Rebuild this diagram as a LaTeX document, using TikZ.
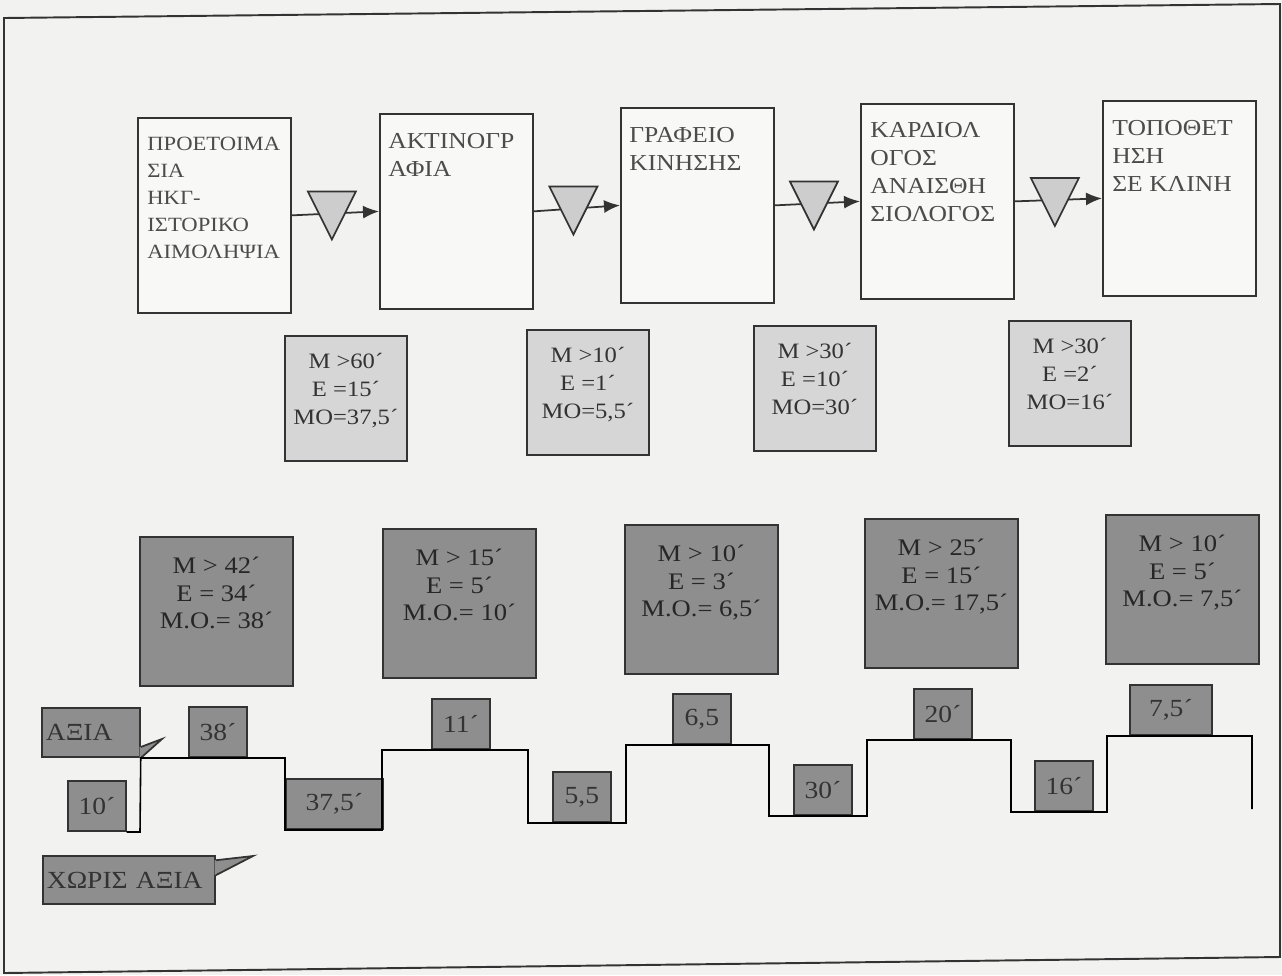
\documentclass[tikz,border=0pt]{standalone}
\usepackage{fontspec}
\setmainfont{Liberation Serif}[FakeStretch=1.12]
\usetikzlibrary{arrows.meta, calc, positioning}

\definecolor{paper}{HTML}{F2F2F0}
\definecolor{ink}{HTML}{333333}
\definecolor{procfill}{HTML}{F8F8F7}
\definecolor{softgray}{HTML}{D6D6D6}
\definecolor{darkgray}{HTML}{8E8E8E}
\definecolor{trigray}{HTML}{CDCDCD}

\tikzset{
  procbox/.style={draw=ink, line width=1pt, fill=procfill, anchor=north west, inner sep=0pt,
    minimum width=3.06cm, minimum height=3.9cm},
  proctext/.style={inner sep=0pt, align=left, text=black!70, font=\fontsize{13}{16}\selectfont},
  flow/.style={draw=ink, line width=1pt, -{Latex[length=3.2mm,width=2.6mm]}},
  inv/.style={draw=ink, line width=1pt, fill=trigray, line join=miter},
  waitbox/.style={draw=ink, line width=1pt, fill=softgray, anchor=north west, inner sep=0pt,
    minimum width=2.44cm, minimum height=2.5cm},
  waittext/.style={inner sep=0pt, align=center, text=black!80, font=\fontsize{12.5}{16}\selectfont},
  statbox/.style={draw=ink, line width=1pt, fill=darkgray, anchor=north west, inner sep=0pt,
    minimum width=3.06cm, minimum height=2.98cm},
  stattext/.style={inner sep=0pt, align=center, text=black!85, font=\fontsize{13.5}{15.6}\selectfont},
  valbox/.style={draw=ink, line width=1pt, fill=darkgray, anchor=south west, inner sep=0pt,
    minimum width=1.16cm, minimum height=1cm, text=black!80, font=\fontsize{14}{16}\selectfont},
  tagbox/.style={valbox, align=left, inner xsep=0.08cm},
  stair/.style={draw=black, line width=0.9pt},
}

\begin{document}
\begin{tikzpicture}[x={(0.02cm,0)}, y={(0,-0.02cm)}]
    % Page and outer frame
    \useasboundingbox (0,0) rectangle (1282,975);
    \fill[paper] (0,0) rectangle (1282,975);
    \draw[ink, line width=1.1pt] (4,18) -- (1280,4) -- (1280,957) -- (4,973) -- cycle;

    % Process steps
    \node[procbox] (prep) at (137,117) {};
    \node[proctext, font=\fontsize{11.5}{15.3}\selectfont, below right=0.4cm and 0.2cm of prep.north west] (preptext)
        {ΠΡΟΕΤΟΙΜΑ\\ΣΙΑ\\ΗΚΓ-\\ΙΣΤΟΡΙΚΟ\\ΑΙΜΟΛΗΨΙΑ};
    \node[procbox] (xray) at (379,113) {};
    \node[proctext, below right=0.4cm and 0.18cm of xray.north west] (xraytext) {ΑΚΤΙΝΟΓΡ\\ΑΦΙΑ};
    \node[procbox] (office) at (620,107) {};
    \node[proctext, below right=0.4cm and 0.18cm of office.north west] (officetext) {ΓΡΑΦΕΙΟ\\ΚΙΝΗΣΗΣ};
    \node[procbox] (anesth) at (860,103) {};
    \node[proctext, below right=0.38cm and 0.2cm of anesth.north west] (anesthtext)
        {ΚΑΡΔΙΟΛ\\ΟΓΟΣ\\ΑΝΑΙΣΘΗ\\ΣΙΟΛΟΓΟΣ};
    \node[procbox] (bed) at (1102,100) {};
    \node[proctext, below right=0.4cm and 0.2cm of bed.north west] (bedtext) {ΤΟΠΟΘΕΤ\\ΗΣΗ\\ΣΕ ΚΛΙΝΗ};

    % Flow arrows with the waiting triangles on them
    \draw[flow] (prep.east) -- coordinate[pos=0.46] (w1) (xray.west);
    \draw[flow] (xray.east) -- coordinate[pos=0.46] (w2) (office.west);
    \draw[flow] (office.east) -- coordinate[pos=0.46] (w3) (anesth.west);
    \draw[flow] (anesth.east) -- coordinate[pos=0.46] (w4) (bed.west);
    \draw[inv] (w1) ++(-24,-22) -- ++(48,0) -- ++(-24,48) -- cycle;
    \draw[inv] (w2) ++(-24,-22) -- ++(48,0) -- ++(-24,48) -- cycle;
    \draw[inv] (w3) ++(-24,-22) -- ++(48,0) -- ++(-24,48) -- cycle;
    \draw[inv] (w4) ++(-24,-22) -- ++(48,0) -- ++(-24,48) -- cycle;

    % Waiting times
    \node[waitbox] (wait1) at (284,335) {};
    \node[waittext, below=0.36cm of wait1.north] (wait1text) {Μ >60´\\Ε =15´\\ΜΟ=37,5´};
    \node[waitbox] (wait2) at (526,329) {};
    \node[waittext, below=0.36cm of wait2.north] (wait2text) {Μ >10´\\Ε =1´\\ΜΟ=5,5´};
    \node[waitbox] (wait3) at (753,325) {};
    \node[waittext, below=0.36cm of wait3.north] (wait3text) {Μ >30´\\Ε =10´\\ΜΟ=30´};
    \node[waitbox] (wait4) at (1008,320) {};
    \node[waittext, below=0.36cm of wait4.north] (wait4text) {Μ >30´\\Ε =2´\\ΜΟ=16´};

    % Process times
    \node[statbox] (stat1) at (139,536) {};
    \node[stattext, below=0.42cm of stat1.north] (stat1text) {Μ > 42´\\Ε = 34´\\Μ.Ο.= 38´};
    \node[statbox] (stat2) at (382,528) {};
    \node[stattext, below=0.42cm of stat2.north] (stat2text) {Μ > 15´\\Ε = 5´\\Μ.Ο.= 10´};
    \node[statbox] (stat3) at (624,524) {};
    \node[stattext, below=0.42cm of stat3.north] (stat3text) {Μ > 10´\\Ε = 3´\\Μ.Ο.= 6,5´};
    \node[statbox] (stat4) at (864,518) {};
    \node[stattext, below=0.42cm of stat4.north] (stat4text) {Μ > 25´\\Ε = 15´\\Μ.Ο.= 17,5´};
    \node[statbox] (stat5) at (1105,514) {};
    \node[stattext, below=0.42cm of stat5.north] (stat5text) {Μ > 10´\\Ε = 5´\\Μ.Ο.= 7,5´};

    % Value / no value times
    \node[valbox] (v10) at (67,832) {10´};
    \node[valbox] (v38) at (188,758) {38´};
    \node[valbox, minimum width=1.94cm] (v375) at (285,830) {37,5´};
    \node[valbox] (v11) at (431,750) {11´};
    \node[valbox] (v55) at (552,823) {5,5};
    \node[valbox] (v65) at (672,745) {6,5};
    \node[valbox] (v30) at (793,816) {30´};
    \node[valbox] (v20) at (913,740) {20´};
    \node[valbox] (v16) at (1034,812) {16´};
    \node[valbox, minimum width=1.64cm] (v75) at (1129,736) {7,5´};

    % Callouts
    \node[tagbox, text width=1.8cm, minimum height=0.98cm] (axia) at (41,758) {ΑΞΙΑ};
    \fill[darkgray] ($(axia.south east)+(-1,-11)$) -- (162,739) -- ($(axia.south east)+(-1,0)$) -- cycle;
    \draw[ink, line width=1pt] ($(axia.south east)+(0,-11)$) -- (162,739) -- (axia.south east);
    \node[tagbox, text width=3.28cm, minimum height=0.96cm] (noval) at (42,905) {ΧΩΡΙΣ ΑΞΙΑ};
    \fill[darkgray] ($(noval.north east)+(-1,5)$) -- (253,856) -- ($(noval.north east)+(-1,20)$) -- cycle;
    \draw[ink, line width=1pt] ($(noval.north east)+(0,5)$) -- (253,856) -- ($(noval.north east)+(0,20)$);

    % Time line
    \draw[stair] (v10.south east) -- (140,832) -- (axia.south east) -- (285,758) -- (285,830) -- (382,830)
        -- (382,750) -- (528,750) -- (528,823) -- (626,823) -- (626,745) -- (769,745) -- (769,816)
        -- (867,816) -- (867,740) -- (1011,740) -- (1011,812) -- (1107,812) -- (1107,736)
        -- (1252,736) -- (1252,809);
\end{tikzpicture}
\end{document}
